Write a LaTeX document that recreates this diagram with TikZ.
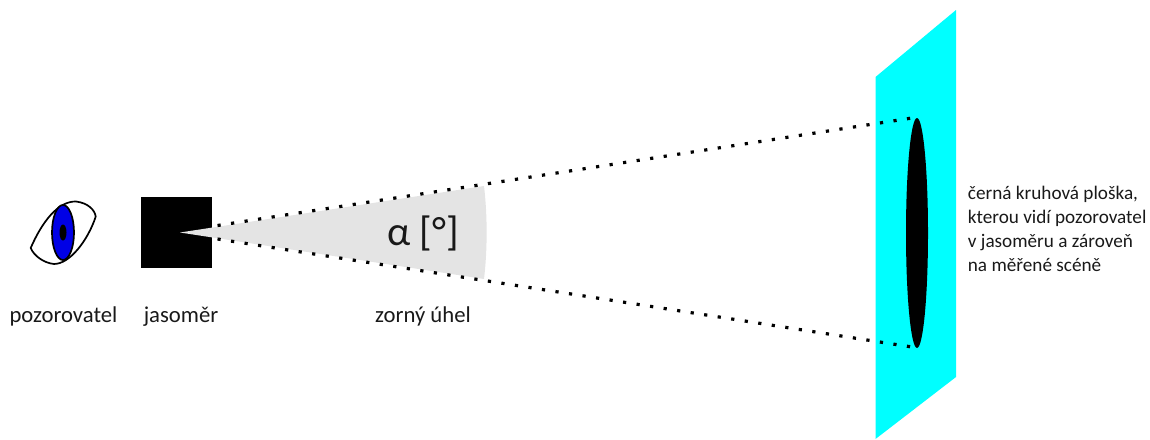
\documentclass[tikz,border=0pt]{standalone}
\usepackage{fontspec}
\usetikzlibrary{shapes.geometric}
\setmainfont{Carlito}
\definecolor{scenecyan}{RGB}{0,255,255}
\definecolor{irisblue}{RGB}{0,0,230}
\definecolor{wedgegrey}{RGB}{228,228,228}
\tikzset{
  lbl/.style={inner sep=0pt,font=\fontsize{22.7}{26}\selectfont,text=black!90},
  ray/.style={line width=3.2pt,dash pattern=on 3.2pt off 10.48pt,black},
  eyeline/.style={draw=black,line width=1.7pt}
}
\begin{document}
\begin{tikzpicture}[x=1pt,y=-1pt]
\useasboundingbox (0,0) rectangle (1150,439);
% scene plane
\fill[scenecyan] (875.5,77) -- (956,10) -- (956,377) -- (875.5,439) -- cycle;
\node[ellipse,minimum width=22pt,minimum height=230pt,fill=black,inner sep=0pt] (disc) at (917,233) {};
% instrument
\node[rectangle,minimum width=71pt,minimum height=71pt,fill=black,inner sep=0pt] (meter) at (176.5,232.5) {};
% viewing angle
\coordinate (apex) at (180,232.5);
\coordinate (wedgeT) at (484,186);
\coordinate (wedgeB) at (484,279);
\fill[wedgegrey] (apex) -- (wedgeT) .. controls (487.5,215) and (487.5,250) .. (wedgeB) -- cycle;
\coordinate (rayTs) at (217.5,225.5);
\coordinate (rayBs) at (217.5,239);
\coordinate (rayTe) at (912,118);
\coordinate (rayBe) at (912,347);
\draw[ray] (rayTs) -- (rayTe);
\draw[ray] (rayBs) -- (rayBe);
% eye
\draw[eyeline,fill=white] (30.7,248) .. controls (42,222) and (58,201) .. (76,201.5)
  .. controls (88,203) and (95,210) .. (95.7,216.7)
  .. controls (88,240) and (70,264) .. (54,264)
  .. controls (44,263) and (34,256) .. (30.7,248) -- cycle;
\node[ellipse,draw=black,line width=1.7pt,fill=irisblue,minimum width=22pt,minimum height=55pt,inner sep=0pt] (iris) at (63,232.5) {};
\node[ellipse,fill=black,minimum width=7pt,minimum height=16pt,inner sep=0pt] (pupil) at (63,232.5) {};
% labels
\node[lbl,anchor=base] (lblA) at (63.5,322) {pozorovatel};
\node[lbl,anchor=base] (lblB) at (181,322) {jasoměr};
\node[lbl,anchor=base] (lblC) at (423,322) {zorný úhel};
\node[inner sep=0pt,anchor=base west,font=\fontsize{41}{45}\selectfont,text=black!90] (alpha) at (387,245) {α [°]};
\node[inner sep=0pt,anchor=north west,align=left,font=\fontsize{19.2}{24}\selectfont,text=black!90] (desc) at (967.7,186) {černá kruhová ploška,\\kterou vidí pozorovatel\\v jasoměru a zároveň\\na měřené scéně};
\end{tikzpicture}
\end{document}
